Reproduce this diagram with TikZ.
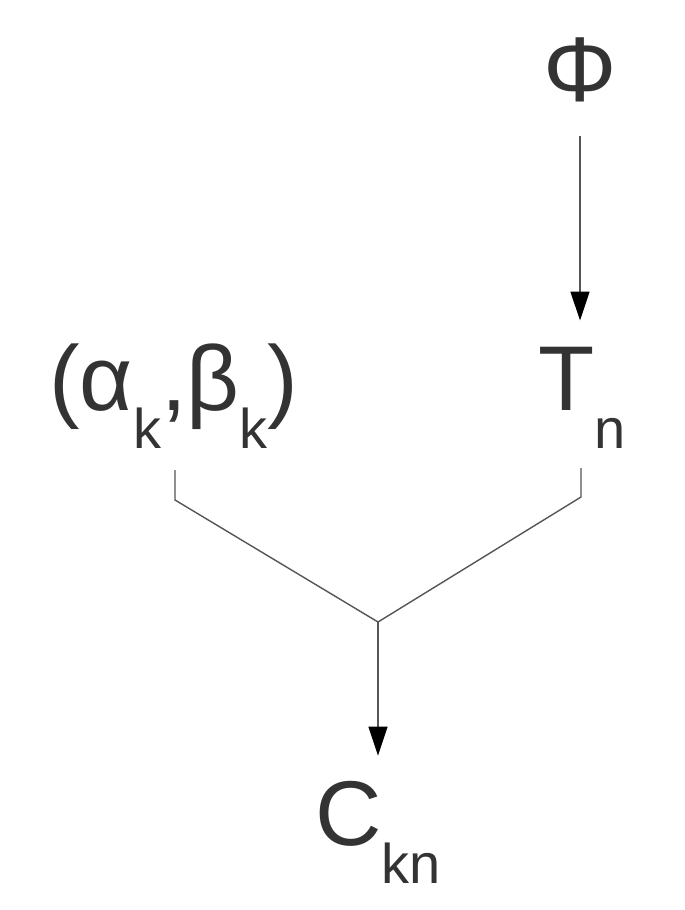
\documentclass[tikz,border=0pt]{standalone}
\usepackage{fontspec}
\setmainfont{Liberation Sans}
\usetikzlibrary{arrows.meta}
\definecolor{txt}{HTML}{333333}
\definecolor{ln}{HTML}{555555}
\newcommand\subtxt[1]{\raisebox{-38pt}{\fontsize{56}{60}\selectfont #1}}
\begin{document}
\begin{tikzpicture}[x=1pt,y=-1pt,
  lbl/.style={inner sep=0pt, text=txt, font=\fontsize{92}{110}\selectfont},
  conn/.style={draw=ln, line width=1.4pt},
  arr/.style={conn, -{Triangle[length=29pt,width=19pt,color=black]}},
]
\useasboundingbox (0,0) rectangle (685,910);
\node[lbl, anchor=base] (phi) at (580,101) {Φ};
\node[lbl, anchor=base west] (tn) at (538,410) {T\subtxt{n}};
\node[lbl, anchor=base west] (ab) at (49,410) {(α\subtxt{k},β\subtxt{k})};
\node[lbl, anchor=base west] (ckn) at (315,845) {C\subtxt{kn}};
\coordinate (j) at (378,622);
\coordinate (lt) at (175,470);
\coordinate (lb) at (175,500);
\coordinate (rt) at (581,468);
\coordinate (rb) at (581,497);
\draw[arr, shorten <=34pt, shorten >=26pt] (phi.south) -- (phi.south |- tn.north);
\draw[conn] (lt) -- (lb) -- (j) -- (rb) -- (rt);
\draw[arr, shorten >=25pt] (j) -- (j |- ckn.north);
\end{tikzpicture}
\end{document}
